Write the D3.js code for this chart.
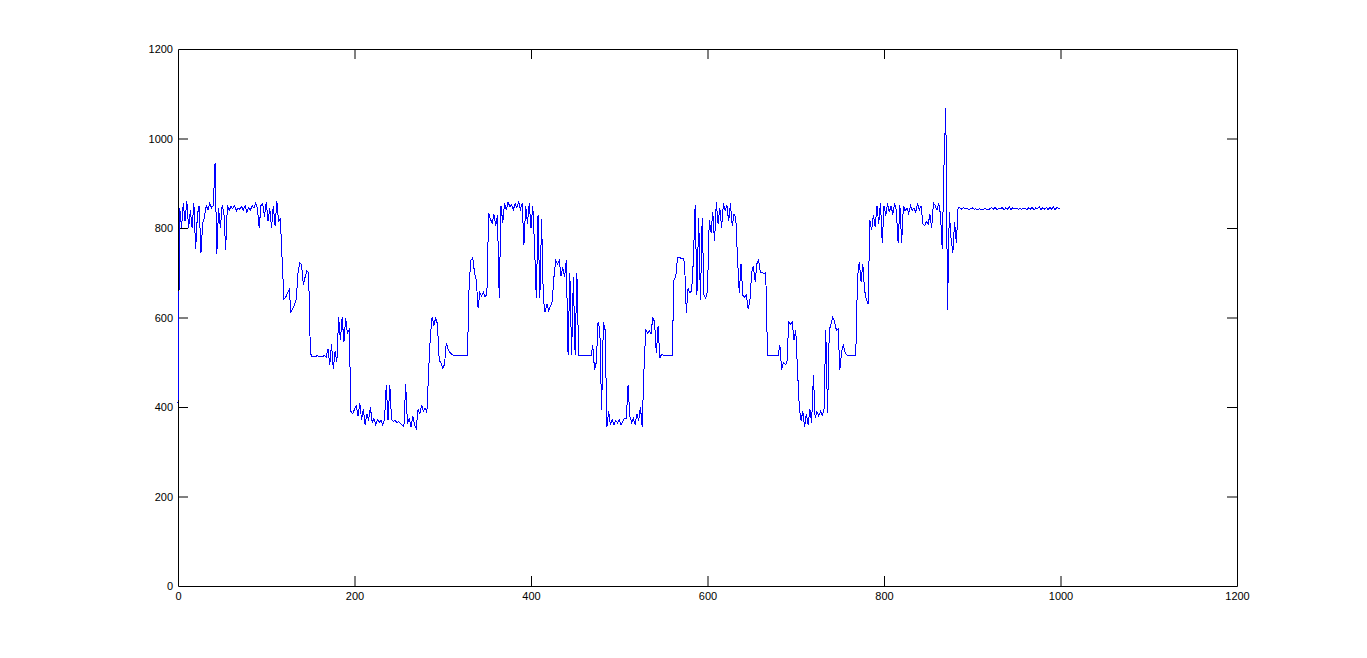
<!DOCTYPE html>
<html>
<head>
<meta charset="utf-8">
<script src="https://cdn.jsdelivr.net/npm/d3@7"></script>
<style>
  html, body { margin: 0; padding: 0; background: #ffffff; }
  svg { display: block; }
  .tick text { font-family: "Liberation Sans", Arial, Helvetica, sans-serif; font-size: 11px; fill: #000; }
</style>
</head>
<body>
<script>
// ---- data ----
const xStep = 2;            // sample spacing along x
const xTicks = [0, 200, 400, 600, 800, 1000, 1200];
const yTicks = [0, 200, 400, 600, 800, 1000, 1200];
// signal values, one per xStep (rows of 10 values = 20 x units)
const samples = [
  /*   0 */ 410, 845, 800, 855, 815, 860, 800, 840, 800, 855,
  /*  20 */ 752, 830, 850, 745, 810, 825, 850, 840, 855, 845,
  /*  40 */ 850, 945, 742, 845, 800, 850, 835, 752, 850, 840,
  /*  60 */ 848, 843, 850, 838, 845, 842, 848, 840, 850, 835,
  /*  80 */ 845, 840, 850, 845, 855, 845, 800, 850, 855, 825,
  /* 100 */ 858, 815, 845, 800, 850, 805, 860, 815, 820, 730,
  /* 120 */ 641, 645, 655, 662, 612, 620, 628, 640, 700, 722,
  /* 140 */ 718, 673, 690, 705, 700, 520, 512, 514, 513, 515,
  /* 160 */ 512, 514, 513, 515, 512, 530, 495, 540, 485, 525,
  /* 180 */ 500, 600, 550, 600, 545, 598, 565, 572, 390, 385,
  /* 200 */ 395, 402, 380, 408, 372, 395, 360, 385, 370, 400,
  /* 220 */ 365, 375, 360, 372, 365, 370, 360, 372, 450, 370,
  /* 240 */ 450, 372, 368, 370, 365, 368, 363, 360, 356, 451,
  /* 260 */ 362, 375, 355, 380, 360, 352, 395, 385, 405, 390,
  /* 280 */ 398, 388, 480, 560, 602, 582, 600, 585, 505, 498,
  /* 300 */ 487, 495, 543, 530, 522, 518, 516, 515, 516, 515,
  /* 320 */ 514, 515, 516, 515, 514, 680, 728, 733, 700, 684,
  /* 340 */ 621, 655, 648, 657, 646, 652, 833, 820, 810, 830,
  /* 360 */ 805, 828, 643, 850, 812, 856, 840, 858, 848, 852,
  /* 380 */ 840, 855, 845, 858, 842, 855, 762, 850, 810, 855,
  /* 400 */ 800, 850, 760, 643, 830, 643, 820, 640, 612, 630,
  /* 420 */ 615, 625, 635, 690, 728, 720, 728, 692, 712, 690,
  /* 440 */ 728, 516, 700, 516, 690, 516, 700, 516, 515, 516,
  /* 460 */ 515, 514, 516, 515, 515, 538, 483, 500, 590, 572,
  /* 480 */ 393, 590, 572, 356, 390, 360, 372, 360, 370, 365,
  /* 500 */ 372, 360, 368, 375, 375, 449, 380, 365, 375, 360,
  /* 520 */ 385, 370, 400, 356, 483, 572, 565, 570, 563, 601,
  /* 540 */ 590, 520, 580, 509, 518, 516, 515, 516, 514, 516,
  /* 560 */ 515, 684, 690, 733, 735, 732, 733, 723, 610, 665,
  /* 580 */ 655, 660, 728, 851, 650, 823, 640, 823, 650, 643,
  /* 600 */ 660, 818, 790, 835, 770, 857, 810, 845, 800, 855,
  /* 620 */ 840, 850, 815, 855, 805, 830, 825, 733, 655, 720,
  /* 640 */ 650, 645, 650, 620, 635, 700, 715, 680, 720, 728,
  /* 660 */ 700, 700, 698, 700, 516, 516, 515, 516, 515, 516,
  /* 680 */ 516, 538, 483, 500, 495, 498, 590, 585, 590, 550,
  /* 700 */ 572, 483, 400, 370, 390, 355, 385, 360, 395, 365,
  /* 720 */ 471, 375, 390, 380, 390, 382, 393, 572, 386, 572,
  /* 740 */ 586, 601, 590, 572, 575, 483, 525, 538, 522, 516,
  /* 760 */ 516, 515, 516, 515, 516, 690, 724, 680, 720, 661,
  /* 780 */ 640, 630, 818, 795, 829, 802, 850, 810, 856, 766,
  /* 800 */ 850, 828, 855, 835, 850, 830, 856, 840, 766, 852,
  /* 820 */ 766, 850, 838, 845, 832, 850, 840, 845, 835, 855,
  /* 840 */ 840, 850, 810, 805, 815, 808, 830, 800, 856, 850,
  /* 860 */ 840, 856, 830, 752, 940, 1068, 617, 836, 776, 744,
  /* 880 */ 814, 766, 847, 845, 842, 846, 843, 844, 841, 843,
  /* 900 */ 845, 842, 843, 841, 843, 842, 842, 843, 842, 841,
  /* 920 */ 843, 845, 842, 846, 841, 844, 843, 846, 840, 845,
  /* 940 */ 842, 847, 841, 845, 843, 844, 842, 843, 842, 844,
  /* 960 */ 843, 841, 845, 842, 846, 840, 845, 843, 847, 841,
  /* 980 */ 845, 842, 846, 841, 846, 842, 847, 841, 846, 843,
  /*1000 */ 845
];

// ---- layout ----
const W = 1367, H = 658;
const plotLeft = 178, plotRight = 1237, plotTop = 49, plotBottom = 586;

const svg = d3.select("body").append("svg").attr("width", W).attr("height", H);

const x = d3.scaleLinear().domain([0, 1200]).range([plotLeft, plotRight]);
const y = d3.scaleLinear().domain([0, 1200]).range([plotBottom, plotTop]);

const tickLen = 10;

// axes (MATLAB style: inward ticks, box with mirrored ticks)
const gx = svg.append("g").attr("transform", `translate(0,${plotBottom})`)
  .call(d3.axisBottom(x).tickValues(xTicks).tickFormat(d3.format("d")).tickSizeInner(-tickLen).tickSizeOuter(0).tickPadding(6));
const gxTop = svg.append("g").attr("transform", `translate(0,${plotTop})`)
  .call(d3.axisTop(x).tickValues(xTicks).tickFormat("").tickSizeInner(-tickLen).tickSizeOuter(0));
const gy = svg.append("g").attr("transform", `translate(${plotLeft},0)`)
  .call(d3.axisLeft(y).tickValues(yTicks).tickFormat(d3.format("d")).tickSizeInner(-tickLen).tickSizeOuter(0).tickPadding(5));
const gyRight = svg.append("g").attr("transform", `translate(${plotRight},0)`)
  .call(d3.axisRight(y).tickValues(yTicks).tickFormat("").tickSizeInner(-tickLen).tickSizeOuter(0));

[gx, gxTop, gy, gyRight].forEach(g => {
  g.selectAll(".domain").attr("stroke", "#000").attr("stroke-width", 1);
  g.selectAll(".tick line").attr("stroke", "#000").attr("stroke-width", 1);
  g.selectAll(".tick line").filter(d => d === 0 || d === 1200).attr("display", "none");
});

// data line (drawn over the axes, as in the reference)
const line = d3.line()
  .x((d, i) => x(i * xStep))
  .y(d => y(d));

svg.append("path")
  .datum(samples)
  .attr("fill", "none")
  .attr("stroke", "#0000ff")
  .attr("stroke-width", 1)
  .attr("shape-rendering", "crispEdges")
  .attr("d", line);
</script>
</body>
</html>
